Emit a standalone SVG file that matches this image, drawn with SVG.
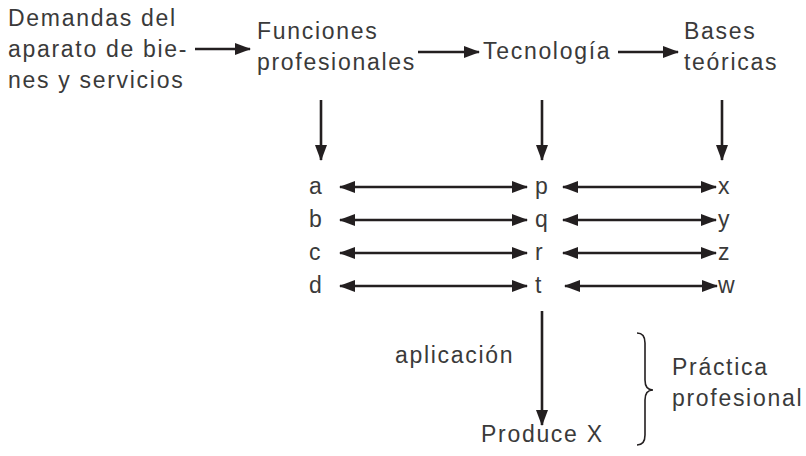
<svg xmlns="http://www.w3.org/2000/svg" width="806" height="456" viewBox="0 0 806 456">
<defs>
<style>
text{font-family:"Liberation Sans",Arial,sans-serif;font-size:23px;fill:#3a3a3a;letter-spacing:1.7px}
.c line{stroke:#231f20;stroke-width:2.6}
</style>
<marker id="ah" viewBox="0 0 16 12" refX="15" refY="6" markerWidth="16" markerHeight="12" markerUnits="userSpaceOnUse" orient="auto-start-reverse"><path d="M0,0L16,6L0,12Z" fill="#231f20"/></marker>
</defs>
<rect width="806" height="456" fill="#fff"/>
<g id="demandas"><text x="8" y="26">Demandas del</text><text x="8" y="57">aparato de bie-</text><text x="8" y="88">nes y servicios</text></g>
<g id="funciones"><text x="257" y="39">Funciones</text><text x="257" y="70">profesionales</text></g>
<g id="tecnologia"><text x="483" y="59">Tecnología</text></g>
<g id="bases"><text x="684" y="39">Bases</text><text x="684" y="70">teóricas</text></g>
<g id="a"><text x="309" y="194">a</text></g>
<g id="b"><text x="309" y="227">b</text></g>
<g id="c"><text x="309" y="260">c</text></g>
<g id="d"><text x="309" y="293">d</text></g>
<g id="p"><text x="535" y="194">p</text></g>
<g id="q"><text x="535" y="227">q</text></g>
<g id="r"><text x="535" y="260">r</text></g>
<g id="t"><text x="535" y="293">t</text></g>
<g id="x"><text x="718" y="194">x</text></g>
<g id="y"><text x="718" y="227">y</text></g>
<g id="z"><text x="718" y="260">z</text></g>
<g id="w"><text x="718" y="293">w</text></g>
<g id="aplicacion"><text x="395" y="363">aplicación</text></g>
<g id="produce"><text x="481" y="442">Produce X</text></g>
<g id="practica"><text x="672" y="375">Práctica</text><text x="672" y="406">profesional</text></g>
<g id="brace"><path d="M637,333 Q645,333 645,343 L645,380 Q645,390 653,390 Q645,390 645,400 L645,435 Q645,445 637,445" fill="none" stroke="#231f20" stroke-width="1.6"/></g>
<g class="c" id="connectors">
<line x1="195" y1="49" x2="250" y2="49" marker-end="url(#ah)"/>
<line x1="418" y1="52" x2="479" y2="52" marker-end="url(#ah)"/>
<line x1="618" y1="52" x2="678" y2="52" marker-end="url(#ah)"/>
<line x1="321" y1="100" x2="321" y2="160" marker-end="url(#ah)"/>
<line x1="542" y1="100" x2="542" y2="160" marker-end="url(#ah)"/>
<line x1="722" y1="100" x2="722" y2="160" marker-end="url(#ah)"/>
<line x1="340" y1="187" x2="527" y2="187" marker-start="url(#ah)" marker-end="url(#ah)"/>
<line x1="340" y1="220" x2="527" y2="220" marker-start="url(#ah)" marker-end="url(#ah)"/>
<line x1="340" y1="253" x2="527" y2="253" marker-start="url(#ah)" marker-end="url(#ah)"/>
<line x1="340" y1="286" x2="527" y2="286" marker-start="url(#ah)" marker-end="url(#ah)"/>
<line x1="563" y1="187" x2="716" y2="187" marker-start="url(#ah)" marker-end="url(#ah)"/>
<line x1="563" y1="220" x2="716" y2="220" marker-start="url(#ah)" marker-end="url(#ah)"/>
<line x1="563" y1="253" x2="716" y2="253" marker-start="url(#ah)" marker-end="url(#ah)"/>
<line x1="565" y1="286" x2="717" y2="286" marker-start="url(#ah)" marker-end="url(#ah)"/>
<line x1="542" y1="311" x2="542" y2="425" marker-end="url(#ah)"/>
</g>
</svg>
